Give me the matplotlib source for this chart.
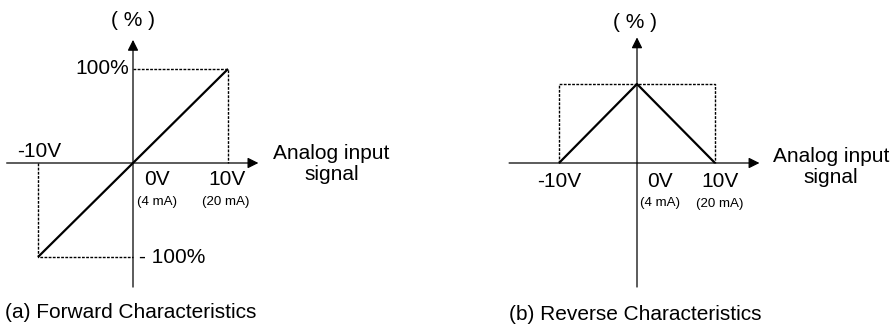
import numpy as np
import matplotlib
matplotlib.use("Agg")
from matplotlib import pyplot as plt

plt.rcParams['font.family'] = ['Liberation Sans', 'DejaVu Sans']

# data: input voltage (V) vs output (%)
forward_v = [-10, 0, 10]
forward_pct = [-100, 0, 100]
reverse_v = [-10, 0, 10]
reverse_pct = [0, 100, 0]

# dashed guide boxes
fwd_guide_neg_v = [-10, -10, 0]
fwd_guide_neg_pct = [0, -100, -100]
fwd_guide_pos_v = [0, 10, 10]
fwd_guide_pos_pct = [100, 100, 0]
rev_guide_v = [-10, -10, 10, 10]
rev_guide_pct = [0, 100, 100, 0]

FS = 15
FS_SMALL = 9.6
W, H = 893, 327

fig = plt.figure(figsize=(W / 100, H / 100), dpi=100)


def make_axes(x0, y0, x1, y1, xlim, ylim):
    # pixel box -> figure fraction
    ax = fig.add_axes([x0 / W, 1 - y1 / H, (x1 - x0) / W, (y1 - y0) / H])
    ax.set_xlim(*xlim)
    ax.set_ylim(*ylim)
    ax.axis('off')
    return ax


def draw_axes(ax, xa, xb, ya, yb):
    arrow = dict(arrowstyle='-|>', color='black', lw=0.9,
                 mutation_scale=16, shrinkA=0, shrinkB=0)
    ax.annotate('', xy=(xb, 0), xytext=(xa, 0), arrowprops=arrow,
                annotation_clip=False)
    ax.annotate('', xy=(0, yb), xytext=(0, ya), arrowprops=arrow,
                annotation_clip=False)


dash = dict(color='black', lw=1.0, linestyle=(0, (2.0, 1.0)), clip_on=False)
solid = dict(color='black', lw=1.6, clip_on=False, solid_capstyle='butt')

# ---------------- (a) forward ----------------
ax1 = make_axes(0, 31.4, 266, 294.6, (-14, 14), (-140, 140))
draw_axes(ax1, -13.3, 13.2, -132, 131)
ax1.plot(fwd_guide_neg_v, fwd_guide_neg_pct, **dash)
ax1.plot(fwd_guide_pos_v, fwd_guide_pos_pct, **dash)
ax1.plot(forward_v, forward_pct, **solid)

ax1.text(0, 152, '( % )', fontsize=FS, ha='center', va='center')
ax1.text(-0.4, 100, '100%', fontsize=FS, ha='right', va='center')
ax1.text(0.6, -101, '- 100%', fontsize=FS, ha='left', va='center')
ax1.text(-9.9, 12, '-10V', fontsize=FS, ha='center', va='center')
ax1.text(2.5, -18, '0V', fontsize=FS, ha='center', va='center')
ax1.text(2.5, -41, '(4 mA)', fontsize=FS_SMALL, ha='center', va='center')
ax1.text(9.9, -18, '10V', fontsize=FS, ha='center', va='center')
ax1.text(9.8, -41, '(20 mA)', fontsize=FS_SMALL, ha='center', va='center')
ax1.text(20.9, -1, 'Analog input\nsignal', fontsize=FS, ha='center',
         va='center', multialignment='center', linespacing=1.15)

fig.text(5 / W, 1 - 313 / H, '(a) Forward Characteristics', fontsize=FS,
         ha='left', va='center')

# ---------------- (b) reverse ----------------
ax2 = make_axes(504.4, 36.6, 769.6, 289.4, (-17, 17), (-160, 160))
draw_axes(ax2, -16.4, 15.7, -157, 159)
ax2.plot(rev_guide_v, rev_guide_pct, **dash)
ax2.plot(reverse_v, reverse_pct, **solid)

ax2.text(-0.3, 178, '( % )', fontsize=FS, ha='center', va='center')
ax2.text(-10.0, -24, '-10V', fontsize=FS, ha='center', va='center')
ax2.text(2.9, -24, '0V', fontsize=FS, ha='center', va='center')
ax2.text(2.9, -51, '(4 mA)', fontsize=FS_SMALL, ha='center', va='center')
ax2.text(10.6, -24, '10V', fontsize=FS, ha='center', va='center')
ax2.text(10.6, -52, '(20 mA)', fontsize=FS_SMALL, ha='center', va='center')
ax2.text(24.9, -5, 'Analog input\nsignal', fontsize=FS, ha='center',
         va='center', multialignment='center', linespacing=1.15)

fig.text(509 / W, 1 - 315 / H, '(b) Reverse Characteristics', fontsize=FS,
         ha='left', va='center')

fig.savefig('out.png', dpi=100, facecolor='white')
